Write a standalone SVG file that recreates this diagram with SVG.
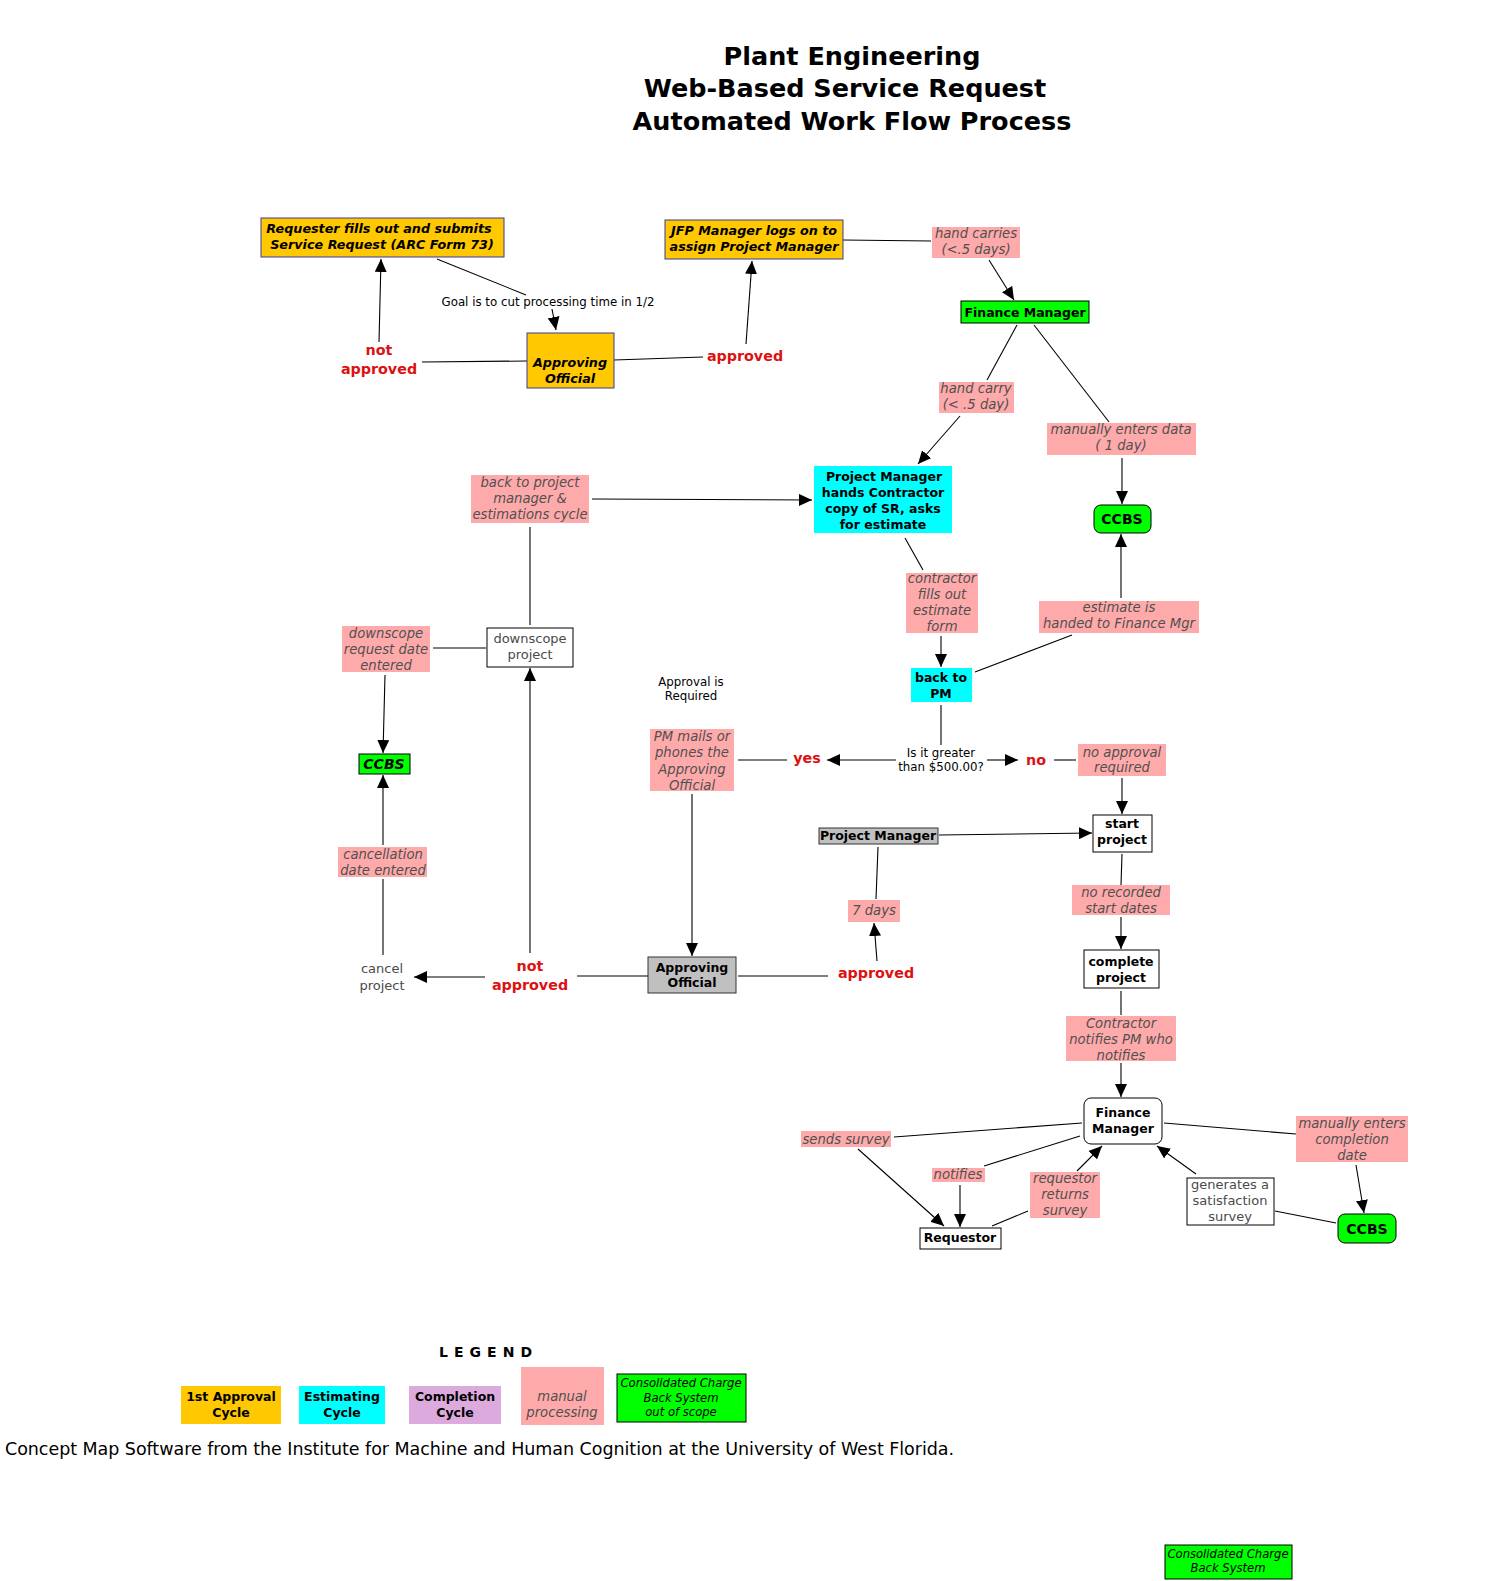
<svg xmlns="http://www.w3.org/2000/svg" width="1486" height="1581" viewBox="0 0 1486 1581">
<defs>
<marker id="ah" markerUnits="userSpaceOnUse" markerWidth="14" markerHeight="12" viewBox="0 0 14 12" refX="13" refY="6" orient="auto">
<path d="M0,0 L13,6 L0,12 Z" fill="#000"/>
</marker>
</defs>
<style>
text{font-family:"DejaVu Sans","Liberation Sans",sans-serif;text-anchor:middle}
.title{font-size:25.5px;font-weight:bold;fill:#000}
.nb{font-size:12.5px;font-weight:bold;fill:#000}
.nbi{font-size:12.75px;font-weight:bold;font-style:italic;fill:#000}
.pt{font-size:13.2px;font-style:italic;fill:#505050}
.gt{font-size:13px;fill:#4a4a4a}
.sm{font-size:11.8px;fill:#000}
.red{font-size:14.3px;font-weight:bold;fill:#DD1111}
.pk{fill:#FFAAAA}
.or{fill:#FFC800;stroke:#3a3a99;stroke-width:1}
.gr{fill:#00FF00;stroke:#000;stroke-width:1}
.cy{fill:#00FFFF}
.wh{fill:#fff;stroke:#000;stroke-width:1}
.gy{fill:#C0C0C0;stroke:#333;stroke-width:1}
.c line{stroke:#000;stroke-width:1.1;fill:none}
.a{marker-end:url(#ah)}
</style>
<rect width="1486" height="1581" fill="#fff"/>

<g id="title">
<text class="title" x="852" y="65">Plant Engineering</text>
<text class="title" x="845" y="97">Web-Based Service Request</text>
<text class="title" x="852" y="130">Automated Work Flow Process</text>
</g>

<g id="connectors" class="c">
<line x1="437" y1="259" x2="526" y2="295"/>
<line class="a" x1="552" y1="309" x2="556" y2="330"/>
<line class="a" x1="379" y1="342" x2="381" y2="259"/>
<line x1="527" y1="361" x2="422" y2="362"/>
<line x1="614" y1="360" x2="703" y2="357"/>
<line class="a" x1="746" y1="344" x2="752" y2="261"/>
<line x1="843" y1="240" x2="931" y2="241"/>
<line class="a" x1="989" y1="260" x2="1014" y2="300"/>
<line x1="1017" y1="325" x2="987" y2="380"/>
<line class="a" x1="960" y1="416" x2="918" y2="464"/>
<line x1="1034" y1="325" x2="1109" y2="422"/>
<line class="a" x1="1122" y1="458" x2="1122" y2="504"/>
<line class="a" x1="592" y1="499" x2="812" y2="500"/>
<line x1="905" y1="538" x2="923" y2="570"/>
<line class="a" x1="941" y1="636" x2="941" y2="667"/>
<line x1="975" y1="672" x2="1072" y2="635"/>
<line class="a" x1="1121" y1="598" x2="1121" y2="534"/>
<line x1="941" y1="705" x2="941" y2="745"/>
<line class="a" x1="896" y1="760" x2="827" y2="760"/>
<line class="a" x1="987" y1="760" x2="1018" y2="760"/>
<line x1="787" y1="760" x2="738" y2="760"/>
<line x1="1054" y1="760" x2="1076" y2="760"/>
<line class="a" x1="1122" y1="778" x2="1122" y2="814"/>
<line class="a" x1="692" y1="794" x2="692" y2="956"/>
<line class="a" x1="939" y1="835" x2="1092" y2="833"/>
<line x1="878" y1="847" x2="876" y2="899"/>
<line class="a" x1="877" y1="961" x2="874" y2="923"/>
<line x1="738" y1="976" x2="828" y2="976"/>
<line x1="648" y1="976" x2="577" y2="976"/>
<line class="a" x1="485" y1="977" x2="414" y2="977"/>
<line class="a" x1="530" y1="953" x2="530" y2="668"/>
<line x1="530" y1="625" x2="530" y2="527"/>
<line x1="486" y1="648" x2="433" y2="648"/>
<line class="a" x1="385" y1="675" x2="383" y2="753"/>
<line x1="383" y1="955" x2="383" y2="879"/>
<line class="a" x1="383" y1="845" x2="383" y2="775"/>
<line x1="1122" y1="854" x2="1121" y2="885"/>
<line class="a" x1="1121" y1="917" x2="1121" y2="949"/>
<line x1="1121" y1="991" x2="1121" y2="1015"/>
<line class="a" x1="1121" y1="1063" x2="1121" y2="1097"/>
<line x1="1082" y1="1123" x2="894" y2="1137"/>
<line class="a" x1="858" y1="1149" x2="944" y2="1226"/>
<line x1="1080" y1="1136" x2="984" y2="1166"/>
<line class="a" x1="960" y1="1185" x2="960" y2="1227"/>
<line x1="992" y1="1226" x2="1028" y2="1211"/>
<line class="a" x1="1077" y1="1171" x2="1102" y2="1146"/>
<line class="a" x1="1196" y1="1174" x2="1157" y2="1146"/>
<line x1="1164" y1="1123" x2="1296" y2="1134"/>
<line class="a" x1="1356" y1="1165" x2="1364" y2="1213"/>
<line x1="1275" y1="1211" x2="1336" y2="1223"/>
</g>

<g id="requester">
<rect class="or" x="261" y="218" width="243" height="39"/>
<text class="nbi" x="379" y="233">Requester fills out and submits</text>
<text class="nbi" x="382" y="249">Service Request (ARC Form 73)</text>
</g>
<g id="goal"><text class="sm" x="548" y="306">Goal is to cut processing time in 1/2</text></g>
<g id="approving-official-1">
<rect class="or" x="527" y="333" width="87" height="55"/>
<text class="nbi" x="570" y="367">Approving</text>
<text class="nbi" x="570" y="383">Official</text>
</g>
<g id="not-approved-1">
<text class="red" x="379" y="355">not</text>
<text class="red" x="379" y="374">approved</text>
</g>
<g id="approved-1"><text class="red" x="745" y="361">approved</text></g>
<g id="jfp-manager">
<rect class="or" x="665" y="220" width="178" height="39"/>
<text class="nbi" x="754" y="235">JFP Manager logs on to</text>
<text class="nbi" x="754" y="251">assign Project Manager</text>
</g>
<g id="hand-carries">
<rect class="pk" x="932" y="227" width="88" height="31"/>
<text class="pt" x="976" y="238">hand carries</text>
<text class="pt" x="976" y="254">(&lt;.5 days)</text>
</g>
<g id="finance-manager-1">
<rect class="gr" x="961" y="301" width="128" height="22"/>
<text class="nb" x="1025" y="317">Finance Manager</text>
</g>
<g id="hand-carry">
<rect class="pk" x="939" y="382" width="75" height="31"/>
<text class="pt" x="976" y="393">hand carry</text>
<text class="pt" x="976" y="409">(&lt; .5 day)</text>
</g>
<g id="manually-enters-data">
<rect class="pk" x="1047" y="423" width="149" height="32"/>
<text class="pt" x="1121" y="434">manually enters data</text>
<text class="pt" x="1121" y="450">( 1 day)</text>
</g>
<g id="project-manager-estimate">
<rect class="cy" x="814" y="466" width="138" height="67"/>
<text class="nb" x="884" y="481">Project Manager</text>
<text class="nb" x="883" y="497">hands Contractor</text>
<text class="nb" x="883" y="513">copy of SR, asks</text>
<text class="nb" x="883" y="529">for estimate</text>
</g>
<g id="ccbs-1">
<rect class="gr" x="1094" y="505" width="57" height="28" rx="7"/>
<text class="nb" x="1122" y="524" style="font-size:14px">CCBS</text>
</g>
<g id="back-to-project-manager">
<rect class="pk" x="471" y="475" width="118" height="48"/>
<text class="pt" x="530" y="487">back to project</text>
<text class="pt" x="530" y="503">manager &amp;</text>
<text class="pt" x="530" y="519">estimations cycle</text>
</g>
<g id="contractor-fills">
<rect class="pk" x="906" y="573" width="72" height="60"/>
<text class="pt" x="942" y="583">contractor</text>
<text class="pt" x="942" y="599">fills out</text>
<text class="pt" x="942" y="615">estimate</text>
<text class="pt" x="942" y="631">form</text>
</g>
<g id="estimate-handed">
<rect class="pk" x="1039" y="601" width="160" height="32"/>
<text class="pt" x="1119" y="612">estimate is</text>
<text class="pt" x="1119" y="628">handed to Finance Mgr</text>
</g>
<g id="back-to-pm">
<rect class="cy" x="911" y="668" width="61" height="34"/>
<text class="nb" x="941" y="682">back to</text>
<text class="nb" x="941" y="698">PM</text>
</g>
<g id="downscope-project">
<rect class="wh" x="487" y="628" width="86" height="39"/>
<text class="gt" x="530" y="643">downscope</text>
<text class="gt" x="530" y="659">project</text>
</g>
<g id="downscope-request">
<rect class="pk" x="342" y="626" width="88" height="46"/>
<text class="pt" x="386" y="638">downscope</text>
<text class="pt" x="386" y="654">request date</text>
<text class="pt" x="386" y="670">entered</text>
</g>
<g id="ccbs-2">
<rect class="gr" x="359" y="754" width="51" height="20"/>
<text class="nbi" x="384" y="769" style="font-size:14px">CCBS</text>
</g>
<g id="cancellation-date">
<rect class="pk" x="338" y="847" width="89" height="30"/>
<text class="pt" x="383" y="859">cancellation</text>
<text class="pt" x="383" y="875">date entered</text>
</g>
<g id="cancel-project">
<text class="gt" x="382" y="973">cancel</text>
<text class="gt" x="382" y="990">project</text>
</g>
<g id="not-approved-2">
<text class="red" x="530" y="971">not</text>
<text class="red" x="530" y="990">approved</text>
</g>
<g id="approval-required">
<text class="sm" x="691" y="686">Approval is</text>
<text class="sm" x="691" y="700">Required</text>
</g>
<g id="pm-mails">
<rect class="pk" x="650" y="729" width="84" height="62"/>
<text class="pt" x="692" y="741">PM mails or</text>
<text class="pt" x="692" y="757">phones the</text>
<text class="pt" x="692" y="774">Approving</text>
<text class="pt" x="692" y="790">Official</text>
</g>
<g id="greater-500">
<text class="sm" x="941" y="757">Is it greater</text>
<text class="sm" x="941" y="771">than $500.00?</text>
</g>
<g id="yes"><text class="red" x="807" y="763">yes</text></g>
<g id="no"><text class="red" x="1036" y="765">no</text></g>
<g id="no-approval-required">
<rect class="pk" x="1078" y="744" width="88" height="32"/>
<text class="pt" x="1122" y="757">no approval</text>
<text class="pt" x="1122" y="772">required</text>
</g>
<g id="start-project">
<rect class="wh" x="1093" y="815" width="59" height="37"/>
<text class="nb" x="1122" y="828">start</text>
<text class="nb" x="1122" y="844">project</text>
</g>
<g id="project-manager-2">
<rect class="gy" x="819" y="828" width="119" height="16"/>
<text class="nb" x="878" y="840">Project Manager</text>
</g>
<g id="seven-days">
<rect class="pk" x="848" y="900" width="52" height="22"/>
<text class="pt" x="874" y="915">7 days</text>
</g>
<g id="approving-official-2">
<rect class="gy" x="648" y="957" width="88" height="36"/>
<text class="nb" x="692" y="972">Approving</text>
<text class="nb" x="692" y="987">Official</text>
</g>
<g id="approved-2"><text class="red" x="876" y="978">approved</text></g>
<g id="no-recorded">
<rect class="pk" x="1072" y="885" width="98" height="30"/>
<text class="pt" x="1121" y="897">no recorded</text>
<text class="pt" x="1121" y="913">start dates</text>
</g>
<g id="complete-project">
<rect class="wh" x="1084" y="950" width="75" height="38"/>
<text class="nb" x="1121" y="966">complete</text>
<text class="nb" x="1121" y="982">project</text>
</g>
<g id="contractor-notifies">
<rect class="pk" x="1066" y="1016" width="110" height="45"/>
<text class="pt" x="1121" y="1028">Contractor</text>
<text class="pt" x="1121" y="1044">notifies PM who</text>
<text class="pt" x="1121" y="1060">notifies</text>
</g>
<g id="finance-manager-2">
<rect class="wh" x="1084" y="1098" width="78" height="46" rx="7"/>
<text class="nb" x="1123" y="1117">Finance</text>
<text class="nb" x="1123" y="1133">Manager</text>
</g>
<g id="sends-survey">
<rect class="pk" x="801" y="1131" width="90" height="16"/>
<text class="pt" x="846" y="1144">sends survey</text>
</g>
<g id="notifies">
<rect class="pk" x="932" y="1168" width="53" height="14"/>
<text class="pt" x="958" y="1179">notifies</text>
</g>
<g id="requestor-returns">
<rect class="pk" x="1030" y="1172" width="70" height="46"/>
<text class="pt" x="1065" y="1183">requestor</text>
<text class="pt" x="1065" y="1199">returns</text>
<text class="pt" x="1065" y="1215">survey</text>
</g>
<g id="requestor">
<rect class="wh" x="920" y="1228" width="81" height="21"/>
<text class="nb" x="960" y="1242">Requestor</text>
</g>
<g id="generates-survey">
<rect class="wh" x="1187" y="1178" width="87" height="47"/>
<text class="gt" x="1230" y="1189">generates a</text>
<text class="gt" x="1230" y="1205">satisfaction</text>
<text class="gt" x="1230" y="1221">survey</text>
</g>
<g id="manually-enters-completion">
<rect class="pk" x="1296" y="1116" width="112" height="46"/>
<text class="pt" x="1352" y="1128">manually enters</text>
<text class="pt" x="1352" y="1144">completion</text>
<text class="pt" x="1352" y="1160">date</text>
</g>
<g id="ccbs-3">
<rect class="gr" x="1338" y="1214" width="58" height="29" rx="7"/>
<text class="nb" x="1367" y="1234" style="font-size:14px">CCBS</text>
</g>

<g id="legend">
<text x="439" y="1357" style="font-size:14px;font-weight:bold;text-anchor:start" textLength="93">LEGEND</text>
<rect x="181" y="1386" width="100" height="38" fill="#FFC800"/>
<text class="nb" x="231" y="1401">1st Approval</text>
<text class="nb" x="231" y="1417">Cycle</text>
<rect x="299" y="1386" width="86" height="38" fill="#00FFFF"/>
<text class="nb" x="342" y="1401">Estimating</text>
<text class="nb" x="342" y="1417">Cycle</text>
<rect x="409" y="1386" width="92" height="38" fill="#DDAADD"/>
<text class="nb" x="455" y="1401">Completion</text>
<text class="nb" x="455" y="1417">Cycle</text>
<rect class="pk" x="521" y="1367" width="83" height="58"/>
<text class="pt" x="562" y="1401">manual</text>
<text class="pt" x="562" y="1417">processing</text>
<rect class="gr" x="617" y="1374" width="129" height="48"/>
<text x="681" y="1387" style="font-size:11.6px;font-style:italic;fill:#000">Consolidated Charge</text>
<text x="681" y="1402" style="font-size:11.6px;font-style:italic;fill:#000">Back System</text>
<text x="681" y="1416" style="font-size:11.6px;font-style:italic;fill:#000">out of scope</text>
</g>
<g id="footer">
<text x="5" y="1455" style="font-size:17.5px;fill:#000;text-anchor:start" textLength="949">Concept Map Software from the Institute for Machine and Human Cognition at the University of West Florida.</text>
</g>
<g id="ccbs-note">
<rect class="gr" x="1165" y="1545" width="127" height="34"/>
<text x="1228" y="1558" style="font-size:11.6px;font-style:italic;fill:#000">Consolidated Charge</text>
<text x="1228" y="1572" style="font-size:11.6px;font-style:italic;fill:#000">Back System</text>
</g>
</svg>
